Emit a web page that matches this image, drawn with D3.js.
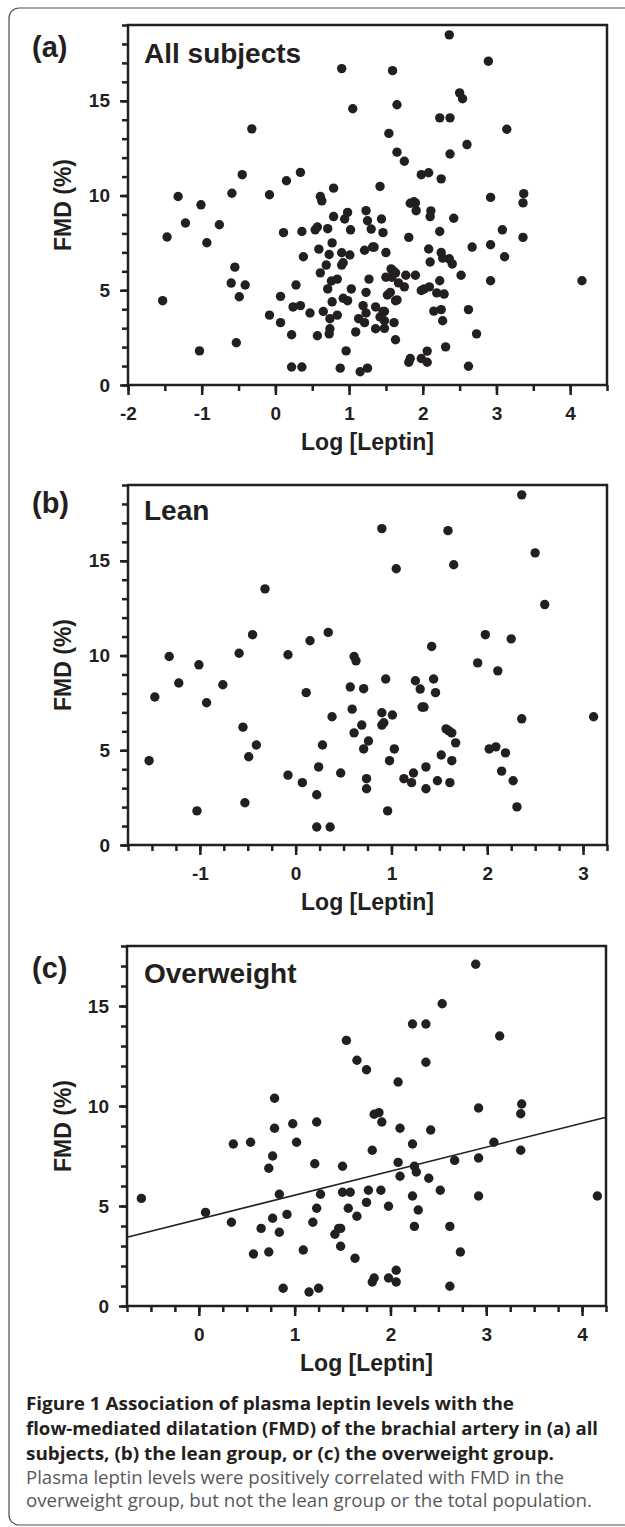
<!DOCTYPE html>
<html>
<head>
<meta charset="utf-8">
<script src="https://cdn.jsdelivr.net/npm/d3@7"></script>
<style>
	html, body { margin: 0; padding: 0; background: #fff; }
	svg { display: block; }
</style>
</head>
<body>
<div id="figure"></div>
<script>
// Lean group: log leptin and FMD (%)
const leanLeptin = [2.36, 0.90, 1.59, 2.50, 1.05, 1.65, -0.32, 2.60, 0.34, -0.45, 0.15, 1.42, 1.98, 2.25, -0.59, -0.08,
	-1.32, -1.01, 0.61, 0.63, 1.90, 2.11, -1.22, -0.76, -1.47, -0.93, 0.11, 0.57, 0.71, 0.94, 1.25, 1.30, 1.44, 1.46,
	0.59, 1.32, 1.34, 0.38, 0.90, 1.01, 0.69, 0.90, 0.92, 0.61, 2.36, -0.55, 1.57, 1.60, 1.63, 0.76, 1.67, -0.41, 0.28,
	0.71, 1.03, 2.02, 2.09, 2.19, 1.52, -0.49, -1.53, 0.98, 1.63, 0.24, 1.36, 0.47, -0.08, 1.23, 2.15, 0.07, 0.74, 1.13,
	1.21, 1.48, 1.61, 2.27, 0.74, 1.36, 0.22, -0.53, -1.03, 0.96, 2.31, 0.22, 0.36, 3.11];
const leanFmd = [18.48, 16.70, 16.59, 15.42, 14.58, 14.79, 13.52, 12.69, 11.22, 11.10, 10.78, 10.48, 11.10, 10.88, 10.12, 10.04,
	9.95, 9.51, 9.95, 9.72, 9.61, 9.19, 8.55, 8.46, 7.81, 7.51, 8.04, 8.34, 8.25, 8.76, 8.67, 8.23, 8.76, 8.04,
	7.17, 7.28, 7.28, 6.77, 6.98, 6.86, 6.33, 6.33, 6.45, 5.92, 6.66, 6.22, 6.13, 6.02, 5.92, 5.49, 5.39, 5.28, 5.28,
	5.07, 5.07, 5.07, 5.18, 4.86, 4.75, 4.66, 4.45, 4.45, 4.45, 4.12, 4.12, 3.80, 3.69, 3.80, 3.90, 3.29, 3.50, 3.50,
	3.29, 3.39, 3.29, 3.39, 2.97, 2.97, 2.65, 2.23, 1.80, 1.80, 2.01, 0.95, 0.95, 6.77];

// Overweight group
const overLeptin = [2.89, 2.54, 2.23, 2.37, 3.14, 1.54, 1.65, 1.75, 2.37, 2.08, 0.79, 2.92, 3.37, 3.36, 1.83, 1.88,
	0.98, 1.23, 1.91, 0.79, 2.10, 2.42, 0.36, 0.54, 1.02, 2.23, 3.08, 1.81, 3.36, 0.77, 2.92, 0.73, 1.21, 1.50, 2.08,
	2.25, 2.67, 2.27, 2.10, 2.40, -0.60, 0.84, 1.27, 1.50, 1.58, 1.77, 1.90, 2.52, 2.23, 2.92, 4.16, 1.75, 0.07, 1.23,
	1.56, 1.98, 2.29, 0.92, 1.65, 0.77, 0.34, 1.19, 0.65, 1.46, 1.48, 0.84, 1.42, 2.25, 2.62, 1.48, 0.57, 0.73, 1.09,
	2.73, 1.63, 2.06, 1.83, 1.81, 1.98, 2.06, 0.88, 1.25, 1.15, 2.62];
const overFmd = [17.09, 15.11, 14.10, 14.10, 13.50, 13.28, 12.29, 11.81, 12.19, 11.20, 10.39, 9.90, 10.10, 9.61, 9.59, 9.67,
	9.11, 9.20, 9.20, 8.89, 8.89, 8.80, 8.10, 8.19, 8.19, 8.10, 8.19, 7.79, 7.79, 7.50, 7.40, 6.89, 7.11, 6.99, 7.18,
	6.99, 7.28, 6.70, 6.49, 6.39, 5.38, 5.59, 5.59, 5.69, 5.69, 5.79, 5.79, 5.79, 5.50, 5.50, 5.50, 5.18, 4.68, 4.89,
	4.89, 4.99, 4.80, 4.58, 4.49, 4.39, 4.19, 4.19, 3.88, 3.88, 3.88, 3.69, 3.59, 3.98, 3.98, 2.99, 2.60, 2.70, 2.80,
	2.70, 2.39, 1.79, 1.40, 1.20, 1.40, 1.20, 0.89, 0.89, 0.70, 0.99];

// Regression line drawn in the overweight panel
const overFitIntercept = 4.34;
const overFitSlope = 1.2;

const yMajorTicks = [0, 5, 10, 15];

const captionBold = [
	"Figure 1 Association of plasma leptin levels with the",
	"flow-mediated dilatation (FMD) of the brachial artery in (a) all",
	"subjects, (b) the lean group, or (c) the overweight group."
];
const captionPlain = [
	"Plasma leptin levels were positively correlated with FMD in the",
	"overweight group, but not the lean group or the total population."
];

const toPoints = (xs, ys) => xs.map((x, i) => ({x: x, y: ys[i]}));
const leanPoints = toPoints(leanLeptin, leanFmd);
const overPoints = toPoints(overLeptin, overFmd);

const width = 625;
const height = 1527;
const ink = "#231f20";
const chartFont = "'Liberation Sans', Arial, Helvetica, sans-serif";
const captionFont = "'Open Sans', 'Noto Sans', sans-serif";

const panels = [
	{tag: "(a)", title: "All subjects", points: leanPoints.concat(overPoints), left: 128, top: 25,
		xDomain: [-2, 4.5], xMajor: d3.range(-2, 5, 1), xMinorStep: 0.5, yMax: 19, tagY: 57, titleY: 63},
	{tag: "(b)", title: "Lean", points: leanPoints, left: 128, top: 485,
		xDomain: [-1.75, 3.25], xMajor: d3.range(-1, 4, 1), xMinorStep: 0.25, yMax: 19, tagY: 513, titleY: 520},
	{tag: "(c)", title: "Overweight", points: overPoints, left: 127, top: 946,
		xDomain: [-0.75, 4.25], xMajor: d3.range(0, 5, 1), xMinorStep: 0.25, yMax: 18, tagY: 978, titleY: 983,
		fit: [overFitIntercept, overFitSlope]}
];
const plotW = 479;
const plotH = 360;

// Plain hyphen for negatives, as in the figure
const tickText = d => String(d);

const svg = d3.select("#figure")
	.append("svg")
	.attr("width", width)
	.attr("height", height);

// Rounded figure frame (its right edge runs off the page)
svg.append("rect")
	.attr("x", 9)
	.attr("y", 8)
	.attr("width", 640)
	.attr("height", 1517)
	.attr("rx", 10)
	.attr("fill", "none")
	.attr("stroke", "#4d4d4d")
	.attr("stroke-width", 1.2);

const drawPanel = (p) => {
	const g = svg.append("g").attr("transform", `translate(${p.left},${p.top})`);

	const x = d3.scaleLinear().domain(p.xDomain).range([0, plotW]);
	const y = d3.scaleLinear().domain([0, p.yMax]).range([plotH, 0]);

	// Plot box
	g.append("rect")
		.attr("width", plotW)
		.attr("height", plotH)
		.attr("fill", "none")
		.attr("stroke", ink)
		.attr("stroke-width", 2.5);

	// Minor ticks first, then the labelled major ticks
	const xMinor = d3.range(p.xDomain[0], p.xDomain[1] + 1e-6, p.xMinorStep);
	const yMinor = d3.range(0, p.yMax + 1e-6, 1);

	g.append("g")
		.attr("transform", `translate(0,${plotH})`)
		.call(d3.axisBottom(x).tickValues(xMinor).tickSize(6).tickFormat(""))
		.call(a => a.select(".domain").remove());
	g.append("g")
		.call(d3.axisLeft(y).tickValues(yMinor).tickSize(6).tickFormat(""))
		.call(a => a.select(".domain").remove());

	const xAxis = g.append("g")
		.attr("transform", `translate(0,${plotH})`)
		.call(d3.axisBottom(x).tickValues(p.xMajor).tickSize(10).tickPadding(12).tickFormat(tickText));
	const yAxis = g.append("g")
		.call(d3.axisLeft(y).tickValues(yMajorTicks).tickSize(8).tickPadding(10).tickFormat(tickText));

	[xAxis, yAxis].forEach(a => {
		a.select(".domain").remove();
		a.selectAll("text")
			.attr("fill", ink)
			.style("font-family", chartFont)
			.style("font-weight", "bold")
			.style("font-size", "19px");
	});
	g.selectAll(".tick line")
		.attr("stroke", ink)
		.attr("stroke-width", 2.5);

	// Axis titles
	g.append("text")
		.attr("x", plotW / 2)
		.attr("y", plotH + 65)
		.attr("text-anchor", "middle")
		.attr("fill", ink)
		.style("font-family", chartFont)
		.style("font-weight", "bold")
		.style("font-size", "23px")
		.text("Log [Leptin]");

	g.append("text")
		.attr("transform", `translate(${71 - p.left},${plotH / 2}) rotate(-90)`)
		.attr("text-anchor", "middle")
		.attr("fill", ink)
		.style("font-family", chartFont)
		.style("font-weight", "bold")
		.style("font-size", "23px")
		.text("FMD (%)");

	// Panel letter and group name
	svg.append("text")
		.attr("x", 32)
		.attr("y", p.tagY)
		.attr("fill", ink)
		.style("font-family", chartFont)
		.style("font-weight", "bold")
		.style("font-size", "29px")
		.text(p.tag);

	svg.append("text")
		.attr("x", 144)
		.attr("y", p.titleY)
		.attr("fill", ink)
		.style("font-family", chartFont)
		.style("font-weight", "bold")
		.style("font-size", "28px")
		.text(p.title);

	// Regression line, where the panel has one
	if (p.fit) {
		const line = d3.line()
			.x(d => x(d))
			.y(d => y(p.fit[0] + p.fit[1] * d));
		g.append("path")
			.datum(p.xDomain)
			.attr("d", line)
			.attr("fill", "none")
			.attr("stroke", ink)
			.attr("stroke-width", 1.6);
	}

	g.selectAll("circle")
		.data(p.points)
		.enter()
		.append("circle")
		.attr("cx", d => x(d.x))
		.attr("cy", d => y(d.y))
		.attr("r", 4.7)
		.attr("fill", ink);
};

panels.forEach(drawPanel);

// Caption: bold title lines then regular grey lines, fitted to the widths seen in the figure
const captionBaselines = [1410, 1435, 1460, 1484, 1507];
const captionEnds = [514, 598, 554, 564, 592];
const captionLines = captionBold.map(t => ({text: t, bold: true}))
	.concat(captionPlain.map(t => ({text: t, bold: false})));

svg.selectAll("text.caption")
	.data(captionLines)
	.enter()
	.append("text")
	.attr("class", "caption")
	.attr("x", 26)
	.attr("y", (d, i) => captionBaselines[i])
	.attr("fill", d => d.bold ? ink : "#58595b")
	.style("font-family", captionFont)
	.style("font-weight", d => d.bold ? "bold" : "normal")
	.style("font-size", "17.5px")
	.attr("textLength", (d, i) => captionEnds[i] - 26)
	.attr("lengthAdjust", "spacingAndGlyphs")
	.text(d => d.text);
</script>
</body>
</html>
